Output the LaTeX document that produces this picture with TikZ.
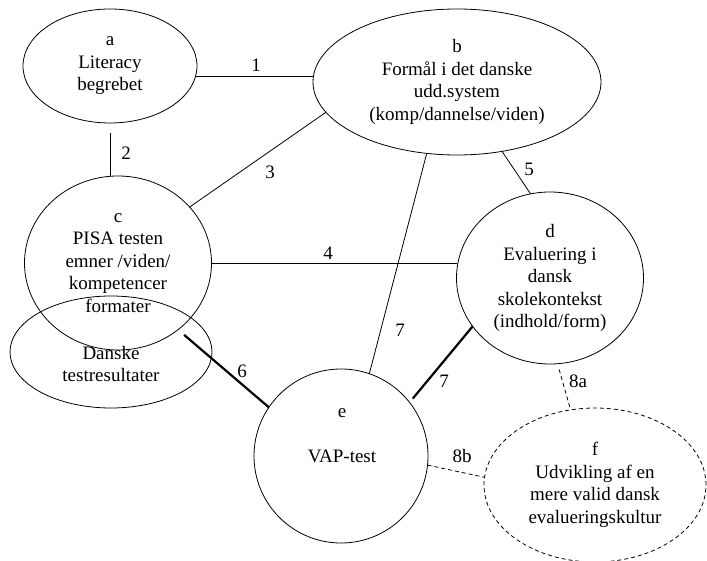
\documentclass[tikz,border=0pt]{standalone}
\usepackage{fontspec}
\setmainfont{Liberation Serif}
\usetikzlibrary{shapes.geometric}
\begin{document}
\begin{tikzpicture}[x=1pt,y=-1pt,
  ell/.style={draw, ellipse, inner sep=0pt, outer sep=0pt, align=center, line width=0.8pt},
  dell/.style={ell, dash pattern=on 4pt off 3pt},
  txt/.style={align=center, inner sep=0pt},
  lbl/.style={inner sep=0pt},
  conn/.style={line width=0.8pt},
  thickconn/.style={line width=2.2pt},
  dconn/.style={line width=0.8pt, dash pattern=on 4pt off 3pt},
  font=\fontsize{19}{22.5}\selectfont]
\useasboundingbox (0,0) rectangle (707,561);

\node[ell, minimum width=174pt, minimum height=114pt] (a) at (110,66) {a\\Literacy\\begrebet};
\node[ell, minimum width=288pt, minimum height=146pt] (b) at (457,82) {b\\Formål i det danske\\udd.system\\(komp/dannelse/viden)};
\node[ell, minimum width=187pt, minimum height=174pt] (c) at (118,263) {c\\PISA testen\\emner /viden/\\kompetencer\\formater};
\node[ell, minimum width=187pt, minimum height=172pt] (d) at (550,278) {d\\Evaluering i\\dansk\\skolekontekst\\(indhold/form)};
\node[ell, minimum width=202pt, minimum height=112pt] (dt) at (111,352) {};
\node[txt] (dttext) at (111,364) {Danske\\testresultater};
\node[ell, minimum width=174pt, minimum height=174pt] (e) at (341,456) {};
\node[txt] (etext) at (342,436) {e\\[22.5pt]VAP-test};
\node[dell, minimum width=222pt, minimum height=154pt] (f) at (595,485) {f\\Udvikling af en\\mere valid dansk\\evalueringskultur};

% connectors
\draw[conn] (a.-7) -- (a.-7 -| b.west);
\draw[conn] ([yshift=-10pt]a.south) -- (a.south |- c.north);
\draw[conn] (c.38) -- (b.193.4);
\draw[conn] (c.east) -- (c.east -| d.west);
\draw[conn] (b.-57.7) -- (d.103.7);
\draw[conn] (b.247.4) -- (e.71.4);
\draw[thickconn, shorten >=5pt] (d.212.3) -- (e.38.9);
\draw[thickconn, shorten <=8pt] (c.-48.7) -- (e.146);
\draw[dconn, shorten <=6pt] (d.-85.6) -- (f.108.2);
\draw[dconn] (e.-6.6) -- (f.176.9);

% labels
\node[lbl] (l1) at (256,65) {1};
\node[lbl] (l2) at (126,153) {2};
\node[lbl] (l3) at (270,172) {3};
\node[lbl] (l4) at (328,253) {4};
\node[lbl] (l5) at (529,169) {5};
\node[lbl] (l6) at (242,371) {6};
\node[lbl] (l7a) at (400,330) {7};
\node[lbl] (l7b) at (444,381) {7};
\node[lbl] (l8a) at (578,381) {8a};
\node[lbl] (l8b) at (462,456) {8b};
\end{tikzpicture}
\end{document}
